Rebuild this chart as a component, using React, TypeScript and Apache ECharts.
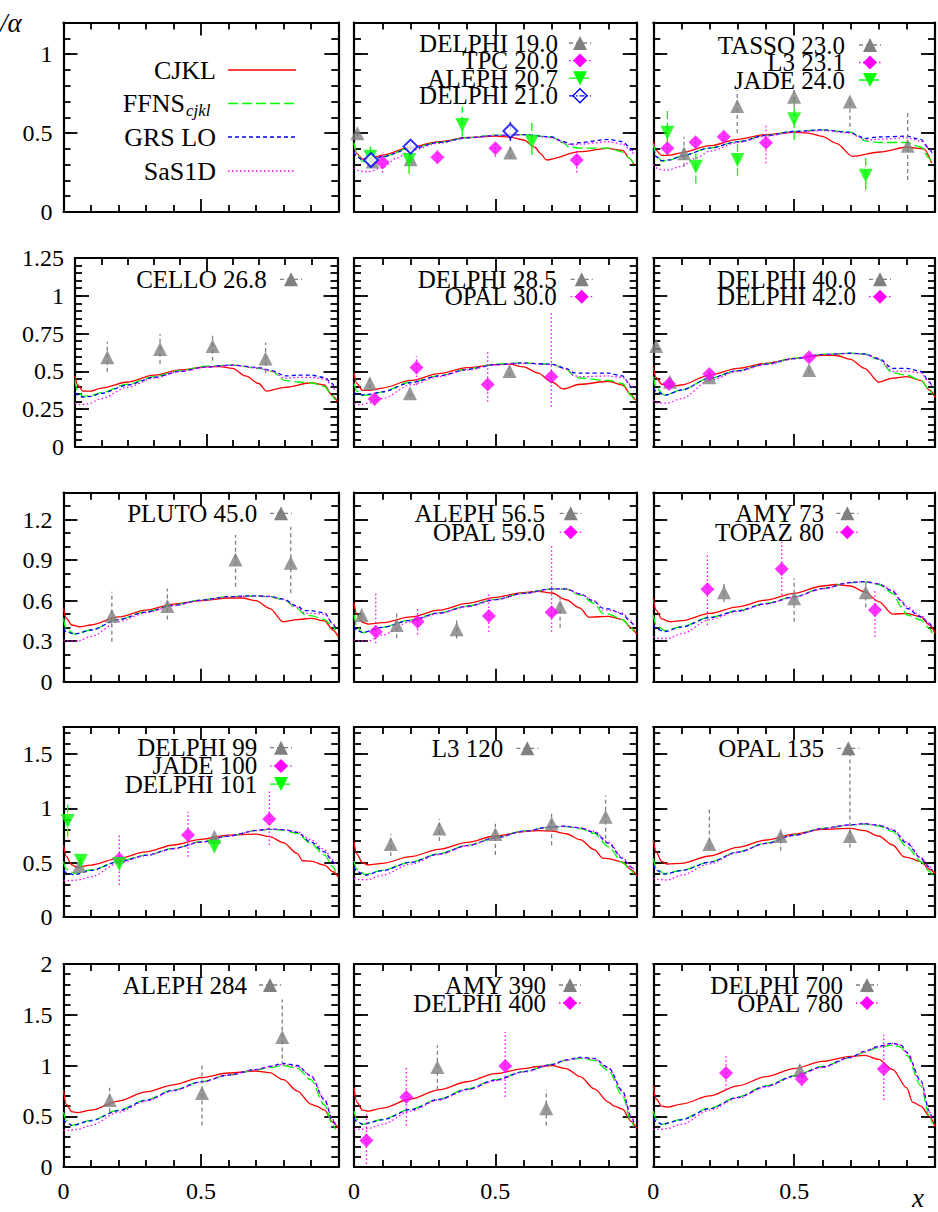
import React, { useEffect, useRef } from "react";
import * as echarts from "echarts";

// ---------- tick labels ----------
const X_TICK_LABELS = ["0", "0.5"];
const Y_TICK_LABELS_R1 = ["0", "0.5", "1"];
const Y_TICK_LABELS_R2 = ["0", "0.25", "0.5", "0.75", "1", "1.25"];
const Y_TICK_LABELS_R3 = ["0", "0.3", "0.6", "0.9", "1.2"];
const Y_TICK_LABELS_R4 = ["0", "0.5", "1", "1.5"];
const Y_TICK_LABELS_R5 = ["0", "0.5", "1", "1.5", "2"];
const Y_MAX = [1.2, 1.25, 1.4, 1.75, 2];
const Y_MAJOR = [0.5, 0.25, 0.3, 0.5, 0.5];
const Y_MINOR = [0.1, 0.05, 0.1, 0.1, 0.1];

// ---------- curve legend ----------
const CURVE_NAMES = ["CJKL", "FFNS", "GRS LO", "SaS1D"];

// ---------- theory curves [x, F2/alpha] ----------
const cjkl_p12 = [[0,0.43],[0.01,0.37],[0.03,0.335],[0.06,0.34],[0.1,0.36],[0.2,0.41],[0.3,0.445],[0.4,0.472],[0.5,0.48],[0.55,0.475],[0.6,0.456],[0.64,0.41],[0.66,0.37],[0.68,0.33],[0.8,0.382],[0.895,0.403],[0.95,0.39],[0.975,0.34],[0.99,0.3]];
const ffns_p12 = [[0,0.44],[0.01,0.37],[0.03,0.32],[0.06,0.325],[0.1,0.35],[0.2,0.405],[0.3,0.44],[0.4,0.47],[0.5,0.487],[0.6,0.49],[0.7,0.475],[0.74,0.44],[0.76,0.412],[0.8,0.405],[0.9,0.405],[0.95,0.38],[0.975,0.34],[0.99,0.3]];
const grs_p12 = [[0,0.38],[0.01,0.35],[0.03,0.33],[0.06,0.33],[0.1,0.35],[0.2,0.4],[0.3,0.44],[0.4,0.47],[0.5,0.485],[0.6,0.49],[0.7,0.475],[0.74,0.445],[0.77,0.43],[0.8,0.44],[0.9,0.46],[0.95,0.445],[0.98,0.4],[0.99,0.37]];
const sas_p12 = [[0,0.28],[0.02,0.26],[0.05,0.255],[0.1,0.28],[0.15,0.34],[0.2,0.39],[0.3,0.435],[0.4,0.468],[0.5,0.484],[0.6,0.488],[0.7,0.47],[0.74,0.44],[0.77,0.425],[0.8,0.43],[0.9,0.445],[0.95,0.43],[0.98,0.39],[0.99,0.36]];

const cjkl_p13 = [[0,0.445],[0.01,0.39],[0.03,0.358],[0.06,0.36],[0.1,0.375],[0.2,0.42],[0.3,0.46],[0.4,0.49],[0.5,0.505],[0.55,0.5],[0.6,0.479],[0.65,0.435],[0.707,0.352],[0.805,0.38],[0.9,0.41],[0.96,0.4],[0.988,0.31]];
const ffns_p13 = [[0,0.43],[0.01,0.37],[0.03,0.32],[0.06,0.33],[0.1,0.355],[0.2,0.405],[0.3,0.445],[0.4,0.485],[0.5,0.51],[0.6,0.52],[0.7,0.505],[0.73,0.48],[0.75,0.45],[0.8,0.44],[0.9,0.44],[0.95,0.41],[0.98,0.34],[0.99,0.31]];
const grs_p13 = [[0,0.4],[0.01,0.35],[0.03,0.325],[0.06,0.33],[0.1,0.355],[0.2,0.405],[0.3,0.445],[0.4,0.485],[0.5,0.51],[0.6,0.52],[0.7,0.505],[0.73,0.48],[0.75,0.465],[0.8,0.475],[0.9,0.48],[0.95,0.46],[0.98,0.4],[0.99,0.37]];
const sas_p13 = [[0,0.3],[0.02,0.27],[0.05,0.265],[0.1,0.29],[0.15,0.34],[0.2,0.385],[0.3,0.44],[0.4,0.48],[0.5,0.505],[0.6,0.515],[0.7,0.5],[0.73,0.475],[0.75,0.455],[0.8,0.46],[0.9,0.47],[0.95,0.45],[0.98,0.4],[0.99,0.37]];

const cjkl_p21 = [[0,0.47],[0.01,0.41],[0.03,0.37],[0.06,0.37],[0.1,0.39],[0.2,0.43],[0.3,0.475],[0.4,0.51],[0.5,0.53],[0.55,0.532],[0.6,0.52],[0.65,0.47],[0.7,0.42],[0.73,0.37],[0.8,0.395],[0.9,0.425],[0.95,0.41],[0.98,0.34],[1.0,0.3]];
const ffns_p21 = [[0,0.44],[0.01,0.37],[0.03,0.335],[0.06,0.34],[0.1,0.36],[0.2,0.415],[0.3,0.465],[0.4,0.505],[0.5,0.535],[0.6,0.542],[0.7,0.52],[0.75,0.5],[0.8,0.44],[0.85,0.43],[0.9,0.425],[0.95,0.4],[0.98,0.34],[0.99,0.31]];
const grs_p21 = [[0,0.36],[0.01,0.345],[0.03,0.33],[0.06,0.335],[0.1,0.355],[0.2,0.41],[0.3,0.46],[0.4,0.5],[0.5,0.53],[0.6,0.542],[0.7,0.525],[0.75,0.505],[0.8,0.47],[0.85,0.475],[0.9,0.475],[0.95,0.46],[0.98,0.42],[0.99,0.38]];
const sas_p21 = [[0,0.29],[0.02,0.28],[0.05,0.285],[0.1,0.32],[0.2,0.395],[0.3,0.455],[0.4,0.5],[0.5,0.528],[0.6,0.54],[0.7,0.522],[0.75,0.5],[0.8,0.455],[0.85,0.46],[0.9,0.46],[0.95,0.45],[0.98,0.41],[0.99,0.37]];

const cjkl_p22 = [[0,0.49],[0.01,0.42],[0.03,0.375],[0.06,0.375],[0.1,0.39],[0.2,0.44],[0.3,0.485],[0.4,0.525],[0.5,0.545],[0.55,0.548],[0.6,0.53],[0.65,0.49],[0.7,0.43],[0.74,0.385],[0.8,0.415],[0.9,0.435],[0.95,0.41],[0.98,0.345],[0.995,0.31]];
const ffns_p22 = [[0,0.42],[0.01,0.37],[0.03,0.34],[0.06,0.345],[0.1,0.365],[0.2,0.43],[0.3,0.47],[0.4,0.515],[0.5,0.548],[0.6,0.556],[0.7,0.547],[0.75,0.515],[0.78,0.47],[0.8,0.455],[0.9,0.44],[0.95,0.42],[0.98,0.34],[0.99,0.31]];
const grs_p22 = [[0,0.36],[0.01,0.35],[0.03,0.345],[0.06,0.35],[0.1,0.365],[0.2,0.425],[0.3,0.47],[0.4,0.512],[0.5,0.545],[0.6,0.555],[0.7,0.547],[0.75,0.52],[0.78,0.49],[0.8,0.488],[0.9,0.488],[0.95,0.47],[0.98,0.4],[0.99,0.37]];
const sas_p22 = [[0,0.285],[0.02,0.28],[0.05,0.29],[0.1,0.32],[0.2,0.41],[0.3,0.465],[0.4,0.51],[0.5,0.543],[0.6,0.553],[0.7,0.545],[0.75,0.515],[0.78,0.47],[0.8,0.465],[0.9,0.47],[0.95,0.46],[0.98,0.41],[0.99,0.38]];

const cjkl_p23 = [[0,0.53],[0.01,0.46],[0.03,0.415],[0.06,0.4],[0.1,0.41],[0.2,0.476],[0.3,0.52],[0.4,0.553],[0.5,0.586],[0.6,0.606],[0.65,0.605],[0.7,0.58],[0.75,0.52],[0.8,0.43],[0.85,0.455],[0.9,0.466],[0.95,0.44],[0.98,0.377],[1.0,0.33]];
const ffns_p23 = [[0,0.466],[0.01,0.39],[0.04,0.343],[0.1,0.377],[0.2,0.455],[0.3,0.505],[0.4,0.55],[0.5,0.586],[0.6,0.613],[0.7,0.62],[0.75,0.615],[0.8,0.58],[0.85,0.49],[0.9,0.475],[0.95,0.44],[0.98,0.377],[0.99,0.35]];
const grs_p23 = [[0,0.39],[0.01,0.37],[0.04,0.343],[0.1,0.377],[0.2,0.455],[0.3,0.505],[0.4,0.548],[0.5,0.585],[0.6,0.612],[0.7,0.62],[0.75,0.615],[0.8,0.585],[0.85,0.52],[0.9,0.52],[0.95,0.5],[0.98,0.43],[0.99,0.4]];
const sas_p23 = [[0,0.31],[0.02,0.29],[0.05,0.29],[0.1,0.32],[0.2,0.44],[0.3,0.5],[0.4,0.546],[0.5,0.583],[0.6,0.61],[0.7,0.618],[0.75,0.612],[0.8,0.58],[0.85,0.5],[0.9,0.5],[0.95,0.49],[0.98,0.43],[0.99,0.4]];

const cjkl_p31 = [[0,0.543],[0.01,0.47],[0.03,0.42],[0.06,0.407],[0.1,0.42],[0.2,0.48],[0.3,0.53],[0.4,0.575],[0.5,0.6],[0.6,0.62],[0.65,0.62],[0.7,0.6],[0.75,0.543],[0.8,0.444],[0.85,0.46],[0.9,0.469],[0.95,0.45],[0.98,0.383],[1.0,0.333]];
const ffns_p31 = [[0,0.469],[0.01,0.39],[0.04,0.353],[0.1,0.383],[0.2,0.462],[0.3,0.518],[0.4,0.568],[0.5,0.605],[0.6,0.63],[0.7,0.635],[0.75,0.63],[0.8,0.61],[0.85,0.543],[0.88,0.494],[0.9,0.49],[0.95,0.46],[0.98,0.41],[0.99,0.38]];
const grs_p31 = [[0,0.395],[0.01,0.37],[0.04,0.353],[0.1,0.383],[0.2,0.46],[0.3,0.516],[0.4,0.566],[0.5,0.604],[0.6,0.63],[0.7,0.636],[0.75,0.632],[0.8,0.612],[0.85,0.56],[0.88,0.526],[0.9,0.526],[0.95,0.51],[0.98,0.43],[0.99,0.4]];
const sas_p31 = [[0,0.31],[0.02,0.3],[0.05,0.3],[0.1,0.335],[0.2,0.445],[0.3,0.51],[0.4,0.563],[0.5,0.602],[0.6,0.628],[0.7,0.634],[0.75,0.63],[0.8,0.608],[0.85,0.55],[0.88,0.506],[0.9,0.506],[0.95,0.5],[0.98,0.43],[0.99,0.4]];

const cjkl_p32 = [[0,0.58],[0.01,0.5],[0.03,0.44],[0.05,0.427],[0.1,0.437],[0.2,0.48],[0.3,0.53],[0.4,0.58],[0.5,0.625],[0.6,0.66],[0.65,0.67],[0.7,0.657],[0.75,0.607],[0.8,0.545],[0.83,0.478],[0.9,0.484],[0.95,0.46],[0.98,0.4],[1.0,0.35]];
const ffns_p32 = [[0,0.494],[0.01,0.41],[0.03,0.363],[0.1,0.403],[0.2,0.457],[0.3,0.51],[0.4,0.56],[0.5,0.61],[0.6,0.655],[0.7,0.686],[0.75,0.686],[0.8,0.642],[0.85,0.58],[0.88,0.506],[0.9,0.5],[0.95,0.46],[0.98,0.4],[0.99,0.37]];
const grs_p32 = [[0,0.41],[0.01,0.38],[0.03,0.365],[0.1,0.403],[0.2,0.455],[0.3,0.508],[0.4,0.558],[0.5,0.608],[0.6,0.655],[0.7,0.688],[0.75,0.688],[0.8,0.65],[0.85,0.595],[0.88,0.545],[0.9,0.54],[0.95,0.5],[0.98,0.44],[0.99,0.41]];
const sas_p32 = [[0,0.31],[0.02,0.3],[0.05,0.3],[0.1,0.346],[0.2,0.445],[0.3,0.505],[0.4,0.555],[0.5,0.606],[0.6,0.652],[0.7,0.686],[0.75,0.686],[0.8,0.648],[0.85,0.6],[0.88,0.53],[0.9,0.53],[0.95,0.51],[0.98,0.45],[0.99,0.42]];

const cjkl_p33 = [[0,0.618],[0.01,0.53],[0.03,0.465],[0.06,0.444],[0.1,0.452],[0.2,0.506],[0.3,0.555],[0.4,0.605],[0.5,0.655],[0.6,0.709],[0.65,0.72],[0.7,0.709],[0.75,0.667],[0.8,0.593],[0.85,0.501],[0.9,0.506],[0.95,0.48],[0.98,0.42],[1.0,0.36]];
const ffns_p33 = [[0,0.494],[0.01,0.42],[0.04,0.378],[0.1,0.408],[0.2,0.477],[0.3,0.526],[0.4,0.58],[0.5,0.63],[0.6,0.692],[0.7,0.734],[0.75,0.74],[0.8,0.72],[0.85,0.655],[0.88,0.556],[0.9,0.494],[0.95,0.457],[0.98,0.395],[0.99,0.36]];
const grs_p33 = [[0,0.42],[0.01,0.39],[0.04,0.372],[0.1,0.405],[0.2,0.475],[0.3,0.525],[0.4,0.578],[0.5,0.628],[0.6,0.69],[0.7,0.735],[0.75,0.742],[0.8,0.725],[0.85,0.67],[0.88,0.6],[0.9,0.543],[0.95,0.48],[0.98,0.432],[0.99,0.4]];
const sas_p33 = [[0,0.334],[0.02,0.32],[0.05,0.32],[0.1,0.355],[0.2,0.46],[0.3,0.52],[0.4,0.575],[0.5,0.626],[0.6,0.688],[0.7,0.733],[0.75,0.74],[0.8,0.725],[0.85,0.675],[0.88,0.6],[0.9,0.556],[0.95,0.49],[0.98,0.432],[0.99,0.4]];

const cjkl_p41 = [[0,0.663],[0.01,0.56],[0.03,0.48],[0.05,0.458],[0.1,0.478],[0.2,0.54],[0.3,0.6],[0.4,0.663],[0.5,0.715],[0.6,0.755],[0.7,0.764],[0.75,0.74],[0.8,0.685],[0.85,0.586],[0.87,0.518],[0.9,0.515],[0.95,0.478],[0.98,0.417],[1.0,0.37]];
const ffns_p41 = [[0,0.51],[0.01,0.44],[0.04,0.403],[0.1,0.433],[0.2,0.51],[0.3,0.57],[0.4,0.632],[0.5,0.693],[0.6,0.745],[0.7,0.795],[0.75,0.807],[0.8,0.8],[0.85,0.77],[0.9,0.678],[0.95,0.57],[0.98,0.463],[0.99,0.42]];
const grs_p41 = [[0,0.43],[0.01,0.41],[0.04,0.39],[0.1,0.43],[0.2,0.508],[0.3,0.568],[0.4,0.63],[0.5,0.69],[0.6,0.745],[0.7,0.797],[0.75,0.81],[0.8,0.805],[0.85,0.78],[0.9,0.69],[0.95,0.6],[0.98,0.51],[0.99,0.47]];
const sas_p41 = [[0,0.34],[0.02,0.335],[0.05,0.34],[0.1,0.37],[0.2,0.495],[0.3,0.565],[0.4,0.628],[0.5,0.69],[0.6,0.744],[0.7,0.795],[0.75,0.808],[0.8,0.805],[0.85,0.785],[0.9,0.71],[0.95,0.62],[0.98,0.526],[0.99,0.49]];

const cjkl_p42 = [[0,0.684],[0.01,0.58],[0.03,0.5],[0.05,0.479],[0.1,0.494],[0.2,0.556],[0.3,0.623],[0.4,0.687],[0.5,0.746],[0.6,0.786],[0.65,0.795],[0.7,0.792],[0.75,0.767],[0.8,0.712],[0.85,0.62],[0.88,0.543],[0.9,0.537],[0.95,0.506],[0.98,0.436],[1.0,0.383]];
const ffns_p42 = [[0,0.515],[0.01,0.44],[0.04,0.392],[0.1,0.43],[0.2,0.506],[0.3,0.583],[0.4,0.66],[0.5,0.73],[0.6,0.792],[0.7,0.83],[0.75,0.832],[0.8,0.815],[0.85,0.77],[0.9,0.647],[0.95,0.5],[0.98,0.43],[0.99,0.4]];
const grs_p42 = [[0,0.46],[0.01,0.42],[0.04,0.386],[0.1,0.428],[0.2,0.504],[0.3,0.58],[0.4,0.658],[0.5,0.728],[0.6,0.79],[0.7,0.832],[0.75,0.836],[0.8,0.82],[0.85,0.78],[0.9,0.68],[0.95,0.537],[0.98,0.46],[0.99,0.43]];
const sas_p42 = [[0,0.356],[0.02,0.345],[0.05,0.345],[0.1,0.386],[0.2,0.487],[0.3,0.575],[0.4,0.655],[0.5,0.726],[0.6,0.788],[0.7,0.83],[0.75,0.835],[0.8,0.822],[0.85,0.79],[0.9,0.69],[0.95,0.55],[0.98,0.465],[0.99,0.44]];

const cjkl_p43 = [[0,0.709],[0.01,0.6],[0.03,0.51],[0.05,0.488],[0.1,0.494],[0.2,0.562],[0.3,0.641],[0.4,0.709],[0.5,0.764],[0.6,0.807],[0.7,0.816],[0.75,0.795],[0.8,0.746],[0.85,0.663],[0.89,0.555],[0.9,0.55],[0.95,0.51],[0.98,0.44],[1.0,0.4]];
const ffns_p43 = [[0,0.54],[0.01,0.45],[0.04,0.4],[0.1,0.43],[0.2,0.506],[0.3,0.6],[0.4,0.68],[0.5,0.755],[0.6,0.816],[0.7,0.846],[0.75,0.856],[0.8,0.838],[0.85,0.786],[0.9,0.647],[0.95,0.51],[0.98,0.42],[0.99,0.39]];
const grs_p43 = [[0,0.48],[0.01,0.43],[0.04,0.395],[0.1,0.428],[0.2,0.504],[0.3,0.598],[0.4,0.678],[0.5,0.753],[0.6,0.815],[0.7,0.85],[0.75,0.86],[0.8,0.845],[0.85,0.8],[0.9,0.68],[0.95,0.54],[0.98,0.46],[0.99,0.43]];
const sas_p43 = [[0,0.356],[0.02,0.345],[0.05,0.34],[0.1,0.386],[0.2,0.49],[0.3,0.594],[0.4,0.676],[0.5,0.75],[0.6,0.813],[0.7,0.848],[0.75,0.858],[0.8,0.846],[0.85,0.81],[0.9,0.69],[0.95,0.55],[0.98,0.465],[0.99,0.44]];

const cjkl_p51 = [[0,0.76],[0.01,0.62],[0.03,0.545],[0.05,0.535],[0.1,0.56],[0.2,0.65],[0.3,0.74],[0.4,0.81],[0.5,0.88],[0.6,0.926],[0.7,0.946],[0.75,0.93],[0.8,0.86],[0.85,0.75],[0.9,0.62],[0.92,0.6],[0.95,0.56],[0.98,0.44],[1.0,0.38]];
const ffns_p51 = [[0,0.54],[0.01,0.46],[0.03,0.41],[0.1,0.46],[0.2,0.56],[0.3,0.66],[0.4,0.76],[0.5,0.84],[0.6,0.906],[0.7,0.956],[0.75,0.98],[0.8,1.0],[0.85,0.975],[0.9,0.86],[0.95,0.61],[0.98,0.41],[0.99,0.37]];
const grs_p51 = [[0,0.47],[0.01,0.44],[0.03,0.41],[0.1,0.455],[0.2,0.555],[0.3,0.655],[0.4,0.755],[0.5,0.838],[0.6,0.906],[0.7,0.96],[0.75,0.99],[0.8,1.02],[0.85,1.0],[0.9,0.9],[0.95,0.66],[0.98,0.46],[0.99,0.4]];
const sas_p51 = [[0,0.36],[0.02,0.36],[0.05,0.37],[0.1,0.41],[0.2,0.54],[0.3,0.65],[0.4,0.75],[0.5,0.835],[0.6,0.905],[0.7,0.958],[0.75,0.99],[0.8,1.01],[0.85,0.99],[0.9,0.9],[0.95,0.67],[0.98,0.47],[0.99,0.42]];

const cjkl_p52 = [[0,0.78],[0.01,0.64],[0.03,0.56],[0.05,0.55],[0.1,0.58],[0.2,0.67],[0.3,0.76],[0.4,0.84],[0.5,0.92],[0.6,0.97],[0.65,0.99],[0.7,1.0],[0.75,0.97],[0.8,0.89],[0.85,0.77],[0.9,0.64],[0.92,0.6],[0.95,0.57],[0.98,0.45],[1.0,0.38]];
const ffns_p52 = [[0,0.55],[0.01,0.47],[0.03,0.42],[0.1,0.47],[0.2,0.57],[0.3,0.67],[0.4,0.77],[0.5,0.86],[0.6,0.94],[0.7,1.01],[0.75,1.05],[0.8,1.07],[0.85,1.05],[0.9,0.95],[0.95,0.7],[0.98,0.45],[0.99,0.4]];
const grs_p52 = [[0,0.48],[0.01,0.45],[0.03,0.42],[0.1,0.465],[0.2,0.565],[0.3,0.665],[0.4,0.765],[0.5,0.855],[0.6,0.94],[0.7,1.01],[0.75,1.055],[0.8,1.08],[0.85,1.07],[0.9,0.98],[0.95,0.75],[0.98,0.5],[0.99,0.44]];
const sas_p52 = [[0,0.37],[0.02,0.37],[0.05,0.38],[0.1,0.42],[0.2,0.55],[0.3,0.66],[0.4,0.76],[0.5,0.85],[0.6,0.935],[0.7,1.005],[0.75,1.05],[0.8,1.075],[0.85,1.065],[0.9,0.97],[0.95,0.74],[0.98,0.5],[0.99,0.45]];

const cjkl_p53 = [[0,0.8],[0.01,0.67],[0.03,0.6],[0.05,0.59],[0.1,0.62],[0.2,0.7],[0.3,0.8],[0.4,0.89],[0.5,0.97],[0.6,1.04],[0.7,1.09],[0.75,1.1],[0.8,1.06],[0.85,0.96],[0.9,0.78],[0.92,0.64],[0.95,0.6],[0.98,0.5],[1.0,0.4]];
const ffns_p53 = [[0,0.55],[0.01,0.47],[0.03,0.42],[0.1,0.47],[0.2,0.58],[0.3,0.69],[0.4,0.8],[0.5,0.9],[0.6,0.99],[0.7,1.08],[0.75,1.13],[0.8,1.18],[0.85,1.2],[0.88,1.18],[0.9,1.1],[0.95,0.8],[0.98,0.5],[0.99,0.43]];
const grs_p53 = [[0,0.48],[0.01,0.45],[0.03,0.42],[0.1,0.465],[0.2,0.575],[0.3,0.685],[0.4,0.795],[0.5,0.895],[0.6,0.985],[0.7,1.08],[0.75,1.14],[0.8,1.19],[0.85,1.22],[0.88,1.2],[0.9,1.13],[0.95,0.85],[0.98,0.55],[0.99,0.47]];
const sas_p53 = [[0,0.37],[0.02,0.37],[0.05,0.38],[0.1,0.42],[0.2,0.56],[0.3,0.68],[0.4,0.79],[0.5,0.89],[0.6,0.98],[0.7,1.075],[0.75,1.135],[0.8,1.185],[0.85,1.215],[0.88,1.2],[0.9,1.12],[0.95,0.84],[0.98,0.55],[0.99,0.47]];

// ---------- measurements [x, value, errLow, errHigh] ----------
const delphi_19 = [[0.012,0.498,0.48,0.52],[0.066,0.32,0.3,0.34],[0.2,0.334,0.31,0.36],[0.553,0.376,0.34,0.41]];
const tpc_20 = [[0.101,0.315,0.25,0.38],[0.295,0.346,0.31,0.39],[0.5,0.403,0.35,0.43],[0.788,0.329,0.25,0.4]];
const aleph_207 = [[0.058,0.35,0.287,0.413],[0.195,0.329,0.24,0.39],[0.383,0.551,0.477,0.667],[0.629,0.445,0.361,0.572]];
const delphi_21 = [[0.06,0.329,0.31,0.35],[0.2,0.414,0.39,0.44],[0.553,0.513,0.45,0.57]];

const tasso_23 = [[0.109,0.372,0.287,0.477],[0.298,0.671,0.5,0.77],[0.5,0.73,0.66,0.8],[0.698,0.699,0.54,0.72],[0.903,0.42,0.203,0.646]];
const l3_231 = [[0.05,0.403,0.37,0.44],[0.15,0.441,0.41,0.47],[0.25,0.477,0.45,0.5],[0.4,0.439,0.308,0.562]];
const jade_24 = [[0.05,0.502,0.361,0.657],[0.151,0.287,0.18,0.37],[0.299,0.329,0.23,0.43],[0.5,0.587,0.456,0.709],[0.754,0.23,0.14,0.36]];

const cello_268 = [[0.123,0.593,0.498,0.696],[0.324,0.648,0.55,0.748],[0.524,0.668,0.57,0.75],[0.726,0.586,0.49,0.69]];

const delphi_285 = [[0.056,0.421,0.39,0.45],[0.198,0.355,0.33,0.38],[0.55,0.503,0.47,0.53]];
const opal_30 = [[0.073,0.317,0.28,0.36],[0.221,0.525,0.41,0.6],[0.473,0.414,0.3,0.64],[0.698,0.465,0.267,0.884]];

const delphi_40 = [[0.01,0.668,0.65,0.69],[0.059,0.432,0.41,0.45],[0.199,0.461,0.44,0.48],[0.553,0.509,0.49,0.53]];
const delphi_42 = [[0.056,0.417,0.4,0.44],[0.199,0.483,0.46,0.5],[0.553,0.593,0.57,0.61]];

const pluto_45 = [[0.176,0.489,0.296,0.667],[0.378,0.561,0.46,0.69],[0.626,0.906,0.704,1.087],[0.827,0.881,0.655,1.148]];

const aleph_565 = [[0.027,0.494,0.47,0.52],[0.151,0.42,0.321,0.506],[0.363,0.388,0.32,0.47],[0.729,0.556,0.4,0.63]];
const opal_59 = [[0.077,0.37,0.284,0.654],[0.225,0.444,0.35,0.54],[0.477,0.487,0.368,0.664],[0.699,0.514,0.37,1.012]];

const amy_73 = [[0.251,0.662,0.59,0.74],[0.5,0.618,0.444,0.766],[0.754,0.662,0.55,0.76]];
const topaz_80 = [[0.192,0.684,0.42,0.956],[0.456,0.835,0.642,1.037],[0.787,0.531,0.333,0.68]];

const delphi_99 = [[0.058,0.47,0.45,0.49],[0.549,0.74,0.71,0.77]];
const jade_100 = [[0.203,0.534,0.295,0.755],[0.453,0.755,0.555,0.97],[0.749,0.902,0.663,1.17]];
const delphi_101 = [[0.015,0.884,0.74,1.05],[0.063,0.518,0.49,0.55],[0.203,0.488,0.45,0.52],[0.549,0.647,0.62,0.68]];

const l3_120 = [[0.13,0.672,0.562,0.764],[0.302,0.816,0.7,0.9],[0.5,0.764,0.57,0.86],[0.699,0.862,0.66,0.95],[0.89,0.924,0.72,1.12]];

const opal_135 = [[0.199,0.672,0.632,1.0],[0.452,0.746,0.61,0.81],[0.698,0.746,0.64,1.52]];

const aleph_284 = [[0.168,0.66,0.54,0.78],[0.504,0.73,0.41,1.03],[0.796,1.28,1.0,1.65]];

const amy_390 = [[0.295,0.985,0.76,1.2],[0.68,0.58,0.41,0.76]];
const delphi_400 = [[0.044,0.26,0.03,0.54],[0.185,0.69,0.41,1.0],[0.535,0.995,0.69,1.33]];

const delphi_700 = [[0.52,0.956,0.9,1.02]];
const opal_780 = [[0.258,0.926,0.76,1.1],[0.527,0.867,0.8,0.93],[0.818,0.966,0.66,1.3]];

// ---------- styles / layout ----------
const FONT = "Liberation Serif";
const LEG_FS = 25;
const KINDS: any = {
  gray: { color: "#808080", symbol: "triangle", rotate: 0, dash: [4, 3] },
  magenta: { color: "#ff00ff", symbol: "diamond", rotate: 0, dash: [1.5, 2.5] },
  green: { color: "#00ff00", symbol: "triangle", rotate: 180, dash: [8, 4] },
  blue: { color: "#0000ff", symbol: "emptyDiamond", rotate: 0, dash: [5, 2, 1.5, 2] },
};
const CURVE_STYLES = [
  { color: "#ff0000", type: "solid" as any },
  { color: "#00ff00", type: [10, 4] },
  { color: "#0000ff", type: [4, 3] },
  { color: "#ff00ff", type: [1.5, 2.5] },
];

const ROW_GEOM = [
  { top: 22.5, height: 189.5 },
  { top: 258, height: 189 },
  { top: 492.7, height: 189 },
  { top: 727, height: 190 },
  { top: 964, height: 203 },
];
const COL_GEOM = [
  { left: 63.5, width: 274.8 },
  { left: 354, width: 282.7 },
  { left: 653.3, width: 281.7 },
];
const Y_LABELS = [Y_TICK_LABELS_R1, Y_TICK_LABELS_R2, Y_TICK_LABELS_R3, Y_TICK_LABELS_R4, Y_TICK_LABELS_R5];

type SetDef = { name: string; kind: string; pts: number[][] };
type PanelDef = { row: number; col: number; curves: number[][][] | null; sets: SetDef[]; leg: { tx: number; sx: number; y: number; dy: number } | null };

const PANELS: PanelDef[] = [
  { row: 0, col: 0, curves: null, sets: [], leg: null },
  { row: 0, col: 1, curves: [cjkl_p12, ffns_p12, grs_p12, sas_p12], sets: [
    { name: "DELPHI 19.0", kind: "gray", pts: delphi_19 },
    { name: "TPC 20.0", kind: "magenta", pts: tpc_20 },
    { name: "ALEPH 20.7", kind: "green", pts: aleph_207 },
    { name: "DELPHI 21.0", kind: "blue", pts: delphi_21 },
  ], leg: { tx: 558, sx: 580, y: 43, dy: 17.6 } },
  { row: 0, col: 2, curves: [cjkl_p13, ffns_p13, grs_p13, sas_p13], sets: [
    { name: "TASSO 23.0", kind: "gray", pts: tasso_23 },
    { name: "L3 23.1", kind: "magenta", pts: l3_231 },
    { name: "JADE 24.0", kind: "green", pts: jade_24 },
  ], leg: { tx: 845, sx: 870, y: 45, dy: 17.5 } },
  { row: 1, col: 0, curves: [cjkl_p21, ffns_p21, grs_p21, sas_p21], sets: [
    { name: "CELLO 26.8", kind: "gray", pts: cello_268 },
  ], leg: { tx: 266.7, sx: 291, y: 279.3, dy: 17.5 } },
  { row: 1, col: 1, curves: [cjkl_p22, ffns_p22, grs_p22, sas_p22], sets: [
    { name: "DELPHI 28.5", kind: "gray", pts: delphi_285 },
    { name: "OPAL 30.0", kind: "magenta", pts: opal_30 },
  ], leg: { tx: 556.7, sx: 581.7, y: 279.3, dy: 17.4 } },
  { row: 1, col: 2, curves: [cjkl_p23, ffns_p23, grs_p23, sas_p23], sets: [
    { name: "DELPHI 40.0", kind: "gray", pts: delphi_40 },
    { name: "DELPHI 42.0", kind: "magenta", pts: delphi_42 },
  ], leg: { tx: 856, sx: 880, y: 279.3, dy: 17.4 } },
  { row: 2, col: 0, curves: [cjkl_p31, ffns_p31, grs_p31, sas_p31], sets: [
    { name: "PLUTO 45.0", kind: "gray", pts: pluto_45 },
  ], leg: { tx: 257.3, sx: 281, y: 513.3, dy: 19 } },
  { row: 2, col: 1, curves: [cjkl_p32, ffns_p32, grs_p32, sas_p32], sets: [
    { name: "ALEPH 56.5", kind: "gray", pts: aleph_565 },
    { name: "OPAL 59.0", kind: "magenta", pts: opal_59 },
  ], leg: { tx: 545, sx: 570.7, y: 513.3, dy: 19 } },
  { row: 2, col: 2, curves: [cjkl_p33, ffns_p33, grs_p33, sas_p33], sets: [
    { name: "AMY 73", kind: "gray", pts: amy_73 },
    { name: "TOPAZ 80", kind: "magenta", pts: topaz_80 },
  ], leg: { tx: 824, sx: 847.3, y: 513.3, dy: 19 } },
  { row: 3, col: 0, curves: [cjkl_p41, ffns_p41, grs_p41, sas_p41], sets: [
    { name: "DELPHI 99", kind: "gray", pts: delphi_99 },
    { name: "JADE 100", kind: "magenta", pts: jade_100 },
    { name: "DELPHI 101", kind: "green", pts: delphi_101 },
  ], leg: { tx: 257.3, sx: 281, y: 747.7, dy: 18.2 } },
  { row: 3, col: 1, curves: [cjkl_p42, ffns_p42, grs_p42, sas_p42], sets: [
    { name: "L3 120", kind: "gray", pts: l3_120 },
  ], leg: { tx: 503.3, sx: 527.3, y: 748.3, dy: 18 } },
  { row: 3, col: 2, curves: [cjkl_p43, ffns_p43, grs_p43, sas_p43], sets: [
    { name: "OPAL 135", kind: "gray", pts: opal_135 },
  ], leg: { tx: 824, sx: 848.3, y: 748.3, dy: 18 } },
  { row: 4, col: 0, curves: [cjkl_p51, ffns_p51, grs_p51, sas_p51], sets: [
    { name: "ALEPH 284", kind: "gray", pts: aleph_284 },
  ], leg: { tx: 247, sx: 270, y: 985, dy: 18 } },
  { row: 4, col: 1, curves: [cjkl_p52, ffns_p52, grs_p52, sas_p52], sets: [
    { name: "AMY 390", kind: "gray", pts: amy_390 },
    { name: "DELPHI 400", kind: "magenta", pts: delphi_400 },
  ], leg: { tx: 546, sx: 570, y: 985, dy: 18 } },
  { row: 4, col: 2, curves: [cjkl_p53, ffns_p53, grs_p53, sas_p53], sets: [
    { name: "DELPHI 700", kind: "gray", pts: delphi_700 },
    { name: "OPAL 780", kind: "magenta", pts: opal_780 },
  ], leg: { tx: 843, sx: 867, y: 985, dy: 18 } },
];

function pickLabel(list: string[], v: number) {
  const s = list.find((l) => Math.abs(parseFloat(l) - v) < 1e-6);
  return s === undefined ? "" : s;
}

function symbolPoints(kind: string, cx: number, cy: number, s: number) {
  const h = s / 2;
  if (kind === "gray") return [[cx, cy - h], [cx + h, cy + h], [cx - h, cy + h]];
  if (kind === "green") return [[cx - h, cy - h], [cx + h, cy - h], [cx, cy + h]];
  return [[cx, cy - h], [cx + h, cy], [cx, cy + h], [cx - h, cy]];
}

function buildOption() {
  const grid: any[] = [];
  const xAxis: any[] = [];
  const yAxis: any[] = [];
  const series: any[] = [];
  const graphic: any[] = [];
  const axisLineStyle = { color: "#000", width: 2.2 };
  const tickStyle = { color: "#000", width: 1.8 };

  PANELS.forEach((p, i) => {
    const R = ROW_GEOM[p.row];
    const C = p.row === 1 && p.col === 0 ? { left: 75, width: 262.5 } : COL_GEOM[p.col];
    grid.push({ left: C.left, top: R.top, width: C.width, height: R.height });

    const xBase = {
      gridIndex: i, type: "value", min: 0, max: 1, interval: 0.5,
      axisLine: { show: true, onZero: false, lineStyle: axisLineStyle },
      axisTick: { show: true, inside: true, length: 13, lineStyle: tickStyle },
      minorTick: { show: true, splitNumber: 5, length: 7, lineStyle: tickStyle },
      splitLine: { show: false }, minorSplitLine: { show: false },
    };
    xAxis.push({
      ...xBase, position: "bottom",
      axisLabel: p.row === 4 ? {
        show: true, margin: 12, fontFamily: FONT, fontSize: 24, color: "#000",
        formatter: (v: number) => pickLabel(X_TICK_LABELS, v),
      } : { show: false },
    });
    xAxis.push({ ...xBase, position: "top", axisLabel: { show: false } });

    const ymax = Y_MAX[p.row];
    const labels = Y_LABELS[p.row];
    const yMinorBase = {
      gridIndex: i, type: "value", min: 0, max: ymax, interval: Y_MINOR[p.row],
      axisLine: { show: true, onZero: false, lineStyle: axisLineStyle },
      axisTick: { show: true, inside: true, length: 7, lineStyle: tickStyle },
      splitLine: { show: false },
    };
    const yMajorBase = {
      gridIndex: i, type: "value", min: 0, max: ymax, interval: Y_MAJOR[p.row],
      axisLine: { show: false, onZero: false },
      axisTick: { show: true, inside: true, length: 14, lineStyle: tickStyle },
      axisLabel: { show: false },
      splitLine: { show: false },
    };
    yAxis.push({
      ...yMinorBase, position: "left",
      axisLabel: p.col === 0 ? {
        show: true, margin: 11, fontFamily: FONT, fontSize: 24, color: "#000",
        showMinLabel: true, showMaxLabel: true,
        formatter: (v: number) => pickLabel(labels, v),
      } : { show: false },
    });
    yAxis.push({ ...yMajorBase, position: "left" });
    yAxis.push({ ...yMinorBase, position: "right", axisLabel: { show: false } });
    yAxis.push({ ...yMajorBase, position: "right" });

    const xi = 2 * i;
    const yi = 4 * i;
    if (p.curves) {
      p.curves.forEach((c, k) => {
        series.push({
          type: "line", name: CURVE_NAMES[k], xAxisIndex: xi, yAxisIndex: yi,
          data: c, showSymbol: false, symbol: "none", smooth: 0.3, smoothMonotone: "x",
          lineStyle: { color: CURVE_STYLES[k].color, width: 1.3, type: CURVE_STYLES[k].type },
          silent: true, z: 2 + k * 0.1,
        });
      });
    }
    p.sets.forEach((s) => {
      const K = KINDS[s.kind];
      series.push({
        type: "custom", name: s.name + " err", xAxisIndex: xi, yAxisIndex: yi,
        data: s.pts, silent: true, z: 3,
        encode: { x: 0, y: [1, 2, 3] },
        renderItem: (params: any, api: any) => {
          const a = api.coord([api.value(0), api.value(2)]);
          const b = api.coord([api.value(0), api.value(3)]);
          return {
            type: "line",
            shape: { x1: a[0], y1: a[1], x2: b[0], y2: b[1] },
            style: { stroke: K.color, lineWidth: 1.3, lineDash: K.dash },
          };
        },
      });
      series.push({
        type: "scatter", name: s.name, xAxisIndex: xi, yAxisIndex: yi,
        data: s.pts.map((q) => [q[0], q[1]]),
        symbol: K.symbol, symbolSize: 14, symbolRotate: K.rotate,
        itemStyle: s.kind === "blue" ? { color: "#0000ff", borderColor: "#0000ff", borderWidth: 1.4 } : { color: K.color },
        silent: true, z: 4,
      });
    });

    if (p.leg) {
      const L = p.leg;
      p.sets.forEach((s, k) => {
        const K = KINDS[s.kind];
        const y = L.y + k * L.dy;
        graphic.push({
          type: "text", x: L.tx, y, silent: true,
          style: { text: s.name, align: "right", verticalAlign: "middle", fontFamily: FONT, fontSize: LEG_FS, fill: "#000" },
        });
        const line = {
          type: "line", silent: true,
          shape: { x1: L.sx - 11, y1: y, x2: L.sx + 11, y2: y },
          style: { stroke: K.color, lineWidth: 1.3, lineDash: K.dash },
        };
        const sym = {
          type: "polygon", silent: true,
          shape: { points: symbolPoints(s.kind, L.sx, y, 14) },
          style: s.kind === "blue" ? { fill: "#fff", stroke: "#0000ff", lineWidth: 1.4 } : { fill: K.color },
        };
        if (s.kind === "blue") { graphic.push(sym); graphic.push(line); }
        else { graphic.push(line); graphic.push(sym); }
      });
    }
  });

  // curve legend in the first panel
  const legY = [70, 103.5, 137, 171];
  CURVE_NAMES.forEach((n, k) => {
    const y = legY[k];
    const tx = k === 1 ? 185 : 216;
    graphic.push({
      type: "text", x: tx, y, silent: true,
      style: { text: n, align: "right", verticalAlign: "middle", fontFamily: FONT, fontSize: 26, fill: "#000" },
    });
    if (k === 1) {
      graphic.push({
        type: "text", x: 186, y: y + 7, silent: true,
        style: { text: "cjkl", align: "left", verticalAlign: "middle", fontFamily: FONT, fontSize: 17, fontStyle: "italic", fill: "#000" },
      });
    }
    graphic.push({
      type: "line", silent: true,
      shape: { x1: 228, y1: y, x2: 296, y2: y },
      style: { stroke: CURVE_STYLES[k].color, lineWidth: 1.3, lineDash: k === 0 ? null : CURVE_STYLES[k].type },
    });
  });

  graphic.push({
    type: "text", x: 0, y: 23, silent: true,
    style: { text: "/α", align: "left", verticalAlign: "middle", fontFamily: FONT, fontSize: 27, fontStyle: "italic", fill: "#000" },
  });
  graphic.push({
    type: "text", x: 918, y: 1198, silent: true,
    style: { text: "x", align: "center", verticalAlign: "middle", fontFamily: FONT, fontSize: 27, fontStyle: "italic", fill: "#000" },
  });

  return {
    animation: false,
    backgroundColor: "#ffffff",
    textStyle: { fontFamily: FONT },
    grid, xAxis, yAxis, series, graphic,
  };
}

export default function App() {
  const ref = useRef<HTMLDivElement>(null);
  useEffect(() => {
    if (!ref.current) return;
    const chart = echarts.init(ref.current, undefined, { renderer: "svg" });
    chart.setOption(buildOption() as any);
    return () => chart.dispose();
  }, []);
  return (
    <div
      ref={ref}
      style={{ position: "absolute", left: 0, top: 0, width: 938, height: 1212, background: "#fff" }}
    />
  );
}
